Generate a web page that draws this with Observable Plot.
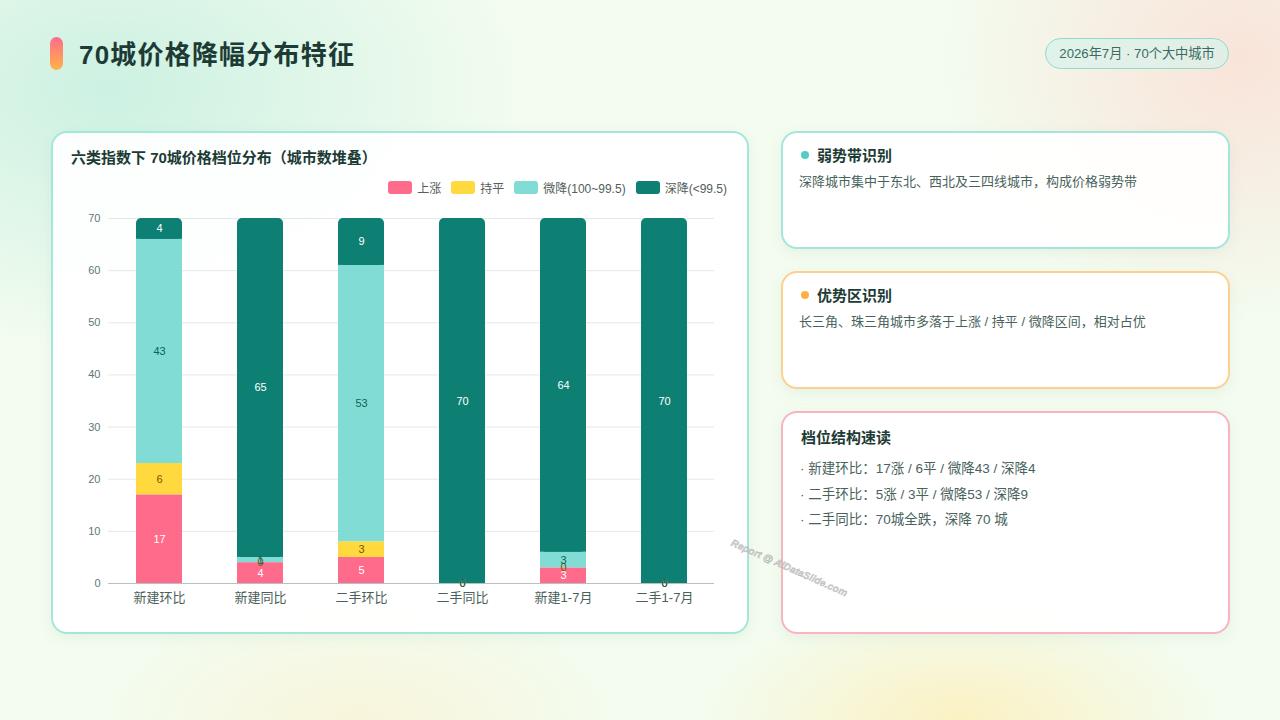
<!DOCTYPE html>
<html><head><meta charset="utf-8">
<script src="https://cdn.jsdelivr.net/npm/d3@7"></script>
<script src="https://cdn.jsdelivr.net/npm/@observablehq/plot@0.6"></script>
<style>
html,body{margin:0;padding:0;}
body{width:1280px;height:720px;position:relative;overflow:hidden;font-family:"Liberation Sans","Noto Sans CJK SC",sans-serif;
background:
 radial-gradient(ellipse 420px 260px at 110px 90px, rgba(200,240,225,0.9), rgba(200,240,225,0) 100%),
 radial-gradient(ellipse 300px 260px at 1240px 60px, rgba(250,225,215,0.9), rgba(250,225,215,0) 100%),
 radial-gradient(ellipse 260px 120px at 960px 720px, rgba(252,240,190,0.9), rgba(252,240,190,0) 100%),
 radial-gradient(ellipse 260px 120px at 360px 720px, rgba(252,240,205,0.6), rgba(252,240,205,0) 100%),
 #f3fcef;}
.pill{position:absolute;left:50px;top:37px;width:13px;height:33px;border-radius:7px;background:linear-gradient(180deg,#ff6b8b,#ffb347);}
.title{position:absolute;left:79px;top:34px;font-size:26px;font-weight:bold;color:#1d3b35;font-family:"Liberation Sans","Noto Sans CJK SC",sans-serif;letter-spacing:1.2px;}
.badge{position:absolute;left:1045px;top:38px;width:182px;height:29px;border:1.5px solid #8fdccf;border-radius:16px;background:rgba(215,242,235,0.7);color:#3c6b62;font-size:13.2px;line-height:29px;text-align:center;font-family:"Liberation Sans","Noto Sans CJK SC",sans-serif;}
.card{position:absolute;background:rgba(255,255,255,0.92);border-radius:16px;box-sizing:border-box;box-shadow:0 4px 14px rgba(120,160,150,0.10);}
.chartcard{left:51px;top:131px;width:698px;height:503px;border:2px solid #a3e6dc;}
.ct{position:absolute;left:18px;top:13px;font-size:15px;font-weight:bold;color:#1d3b35;font-family:"Liberation Sans","Noto Sans CJK SC",sans-serif;}
.legend{position:absolute;right:20px;top:46px;display:flex;gap:10px;font-size:12px;color:#555e5c;align-items:center;}
.legend span.i{display:flex;align-items:center;gap:5px;}
.legend span.s{display:inline-block;width:24px;height:13px;border-radius:3px;}
#chart{position:absolute;left:17px;top:67px;}
.c1{left:781px;top:131px;width:449px;height:118px;border:2px solid #a3e6dc;}
.c2{left:781px;top:271px;width:449px;height:118px;border:2px solid #fcd08e;}
.c3{left:781px;top:411px;width:449px;height:223px;border:2px solid #f9b3c2;}
.h{position:absolute;left:18px;top:11px;font-size:15px;font-weight:bold;color:#1d3b35;font-family:"Liberation Sans","Noto Sans CJK SC",sans-serif;display:flex;align-items:center;gap:8px;}
.dot{display:inline-block;width:8px;height:8px;border-radius:4px;}
.b{position:absolute;left:16px;top:38px;font-size:13px;color:#4a625d;font-family:"Liberation Sans","Noto Sans CJK SC",sans-serif;}
.lines{position:absolute;left:17px;top:43px;font-size:13.5px;color:#4a625d;font-family:"Liberation Sans","Noto Sans CJK SC",sans-serif;line-height:25.5px;}
.wm{position:absolute;left:734px;top:537px;transform:rotate(24deg);transform-origin:0 0;font-size:10px;font-weight:bold;font-style:italic;color:rgba(205,205,205,0.9);-webkit-text-stroke:0.4px rgba(150,150,150,0.6);white-space:nowrap;}
</style></head>
<body>
<div class="pill"></div>
<div class="title">70城价格降幅分布特征</div>
<div class="badge">2026年7月 · 70个大中城市</div>

<div class="card chartcard">
  <div class="ct">六类指数下 70城价格档位分布（城市数堆叠）</div>
  <div class="legend" id="legend"></div>
  <div id="chart"></div>
</div>

<div class="card c1"><div class="h"><span class="dot" style="background:#4ecdc4"></span>弱势带识别</div>
<div class="b">深降城市集中于东北、西北及三四线城市，构成价格弱势带</div></div>
<div class="card c2"><div class="h"><span class="dot" style="background:#ffae42"></span>优势区识别</div>
<div class="b">长三角、珠三角城市多落于上涨 / 持平 / 微降区间，相对占优</div></div>
<div class="card c3"><div class="h" style="left:18px;top:13px">档位结构速读</div>
<div class="lines">· 新建环比：17涨 / 6平 / 微降43 / 深降4<br>· 二手环比：5涨 / 3平 / 微降53 / 深降9<br>· 二手同比：70城全跌，深降 70 城</div></div>

<div class="wm">Report @ AIDataSlide.com</div>

<script>
const categories = ["新建环比","新建同比","二手环比","二手同比","新建1-7月","二手1-7月"];
const seriesNames = ["上涨","持平","微降(100~99.5)","深降(<99.5)"];
const upValues   = [17, 4, 5, 0, 3, 0];
const flatValues = [6, 0, 3, 0, 0, 0];
const mildValues = [43, 1, 53, 0, 3, 0];
const deepValues = [4, 65, 9, 70, 64, 70];
const yTicks = [0, 10, 20, 30, 40, 50, 60, 70];
const colors = ["#ff6b8b", "#ffd93d", "#80dcd4", "#0e7f73"];
const labelColors = ["#ffffff", "#6e5a00", "#0f625b", "#ffffff"];

const seriesValues = [upValues, flatValues, mildValues, deepValues];
const rows = [];
categories.forEach((cat, i) => {
  let acc = 0;
  seriesValues.forEach((vals, s) => {
    const v = vals[i];
    rows.push({cat, series: seriesNames[s], s, value: v, y1: acc, y2: acc + v, mid: acc + v / 2});
    acc += v;
  });
});

const lg = document.getElementById("legend");
seriesNames.forEach((n, i) => {
  const it = document.createElement("span"); it.className = "i";
  it.innerHTML = `<span class="s" style="background:${colors[i]}"></span>${n}`;
  lg.appendChild(it);
});

const lowerRows = rows.filter(d => d.s < 3);
const topRows = rows.filter(d => d.s === 3);
const marks = [
  Plot.gridY(yTicks, {stroke: "#e3e9e7", strokeOpacity: 1}),
  Plot.barY(lowerRows, {x: "cat", y1: "y1", y2: "y2", fill: "series"}),
  Plot.barY(topRows, {x: "cat", y1: "y1", y2: "y2", fill: "series", rx: 5}),
  Plot.barY(topRows, {x: "cat", y1: "y1", y2: d => d.y2 - 1.5, fill: "series"}),
  Plot.ruleY([0], {stroke: "#b7c2c0"}),
  Plot.axisY(yTicks, {tickSize: 0, tickPadding: 8, fontSize: 11, fill: "#5f7773", label: null}),
  Plot.axisX({tickSize: 0, tickPadding: 9, fontSize: 13, fill: "#4b5f5b", label: null})
];
[0, 1, 2, 3].forEach(s => {
  marks.push(Plot.text(rows.filter(d => d.s === s), {x: "cat", y: "mid", text: d => String(d.value), fill: labelColors[s], fontSize: 11}));
});

const plot = Plot.plot({
  width: 660, height: 420,
  marginLeft: 38, marginRight: 16, marginTop: 18, marginBottom: 37,
  style: {fontFamily: '"Liberation Sans","Noto Sans CJK SC",sans-serif', background: "transparent"},
  x: {domain: categories, paddingInner: 0.545, paddingOuter: 0.2725, label: null},
  y: {domain: [0, 70], label: null},
  color: {domain: seriesNames, range: colors},
  marks
});
document.getElementById("chart").appendChild(plot);
</script>
</body></html>
